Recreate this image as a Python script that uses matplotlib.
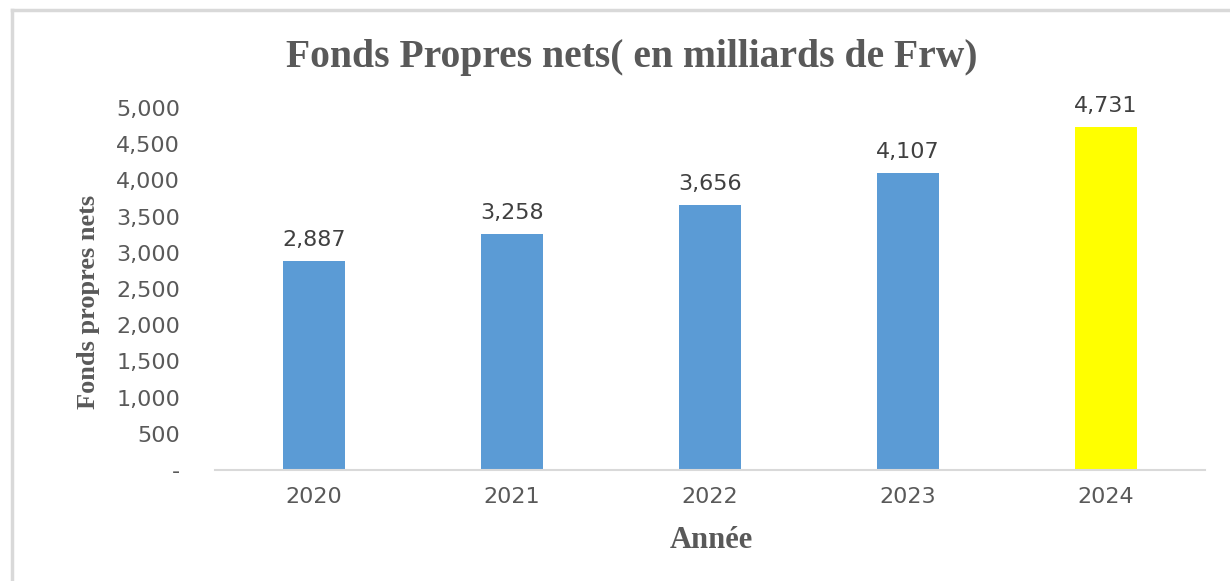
import matplotlib
matplotlib.use("Agg")
import matplotlib.pyplot as plt
from matplotlib.lines import Line2D

years = ["2020", "2021", "2022", "2023", "2024"]
values = [2887, 3258, 3656, 4107, 4731]
bar_colors = ["#5B9BD5", "#5B9BD5", "#5B9BD5", "#5B9BD5", "#FFFF00"]
yticks = [0, 500, 1000, 1500, 2000, 2500, 3000, 3500, 4000, 4500, 5000]
ytick_labels = ["-", "500", "1,000", "1,500", "2,000", "2,500", "3,000", "3,500", "4,000", "4,500", "5,000"]

W, H = 1230, 581
fig = plt.figure(figsize=(W / 100, H / 100), dpi=100)
ax = fig.add_axes([215 / W, 1 - 470 / H, 990 / W, 362 / H])

x = list(range(len(years)))
ax.bar(x, values, width=0.31, color=bar_colors, zorder=2)
ax.set_xlim(-0.5, len(years) - 0.5)
ax.set_ylim(0, 5000)

tick_font = dict(family="DejaVu Sans", fontsize=16, color="#595959")
ax.set_yticks(yticks)
ax.set_yticklabels(ytick_labels, **tick_font)
ax.set_xticks(x)
ax.set_xticklabels(years, **tick_font)
ax.tick_params(axis="y", length=0, pad=25)
ax.tick_params(axis="x", length=0, pad=12)

for s in ["top", "right", "left"]:
    ax.spines[s].set_visible(False)
ax.spines["bottom"].set_color("#D9D9D9")
ax.spines["bottom"].set_linewidth(1.5)

for xi, v in zip(x, values):
    ax.annotate(f"{v:,}", (xi, v), xytext=(0, 8), textcoords="offset points",
                ha="center", va="bottom", family="DejaVu Sans", fontsize=16, color="#404040")

fig.text(632 / W, 1 - 57 / H, "Fonds Propres nets( en milliards de Frw)",
         ha="center", va="center", family="Liberation Serif", fontweight="bold",
         fontsize=28.5, color="#595959")
fig.text(88 / W, 1 - 302 / H, "Fonds propres nets", rotation=90,
         ha="center", va="center", family="Liberation Serif", fontweight="bold",
         fontsize=19, color="#595959")
fig.text(711 / W, 1 - 540 / H, "Année",
         ha="center", va="center", family="Liberation Serif", fontweight="bold",
         fontsize=22, color="#595959")

# chart frame (left and top edges visible)
fig.add_artist(Line2D([11.5 / W, 11.5 / W], [0, 1 - 10 / H], transform=fig.transFigure,
                      color="#D9D9D9", linewidth=2.5))
fig.add_artist(Line2D([11.5 / W, 1], [1 - 10 / H, 1 - 10 / H], transform=fig.transFigure,
                      color="#D9D9D9", linewidth=2.5))

fig.savefig("out.png", dpi=100)
